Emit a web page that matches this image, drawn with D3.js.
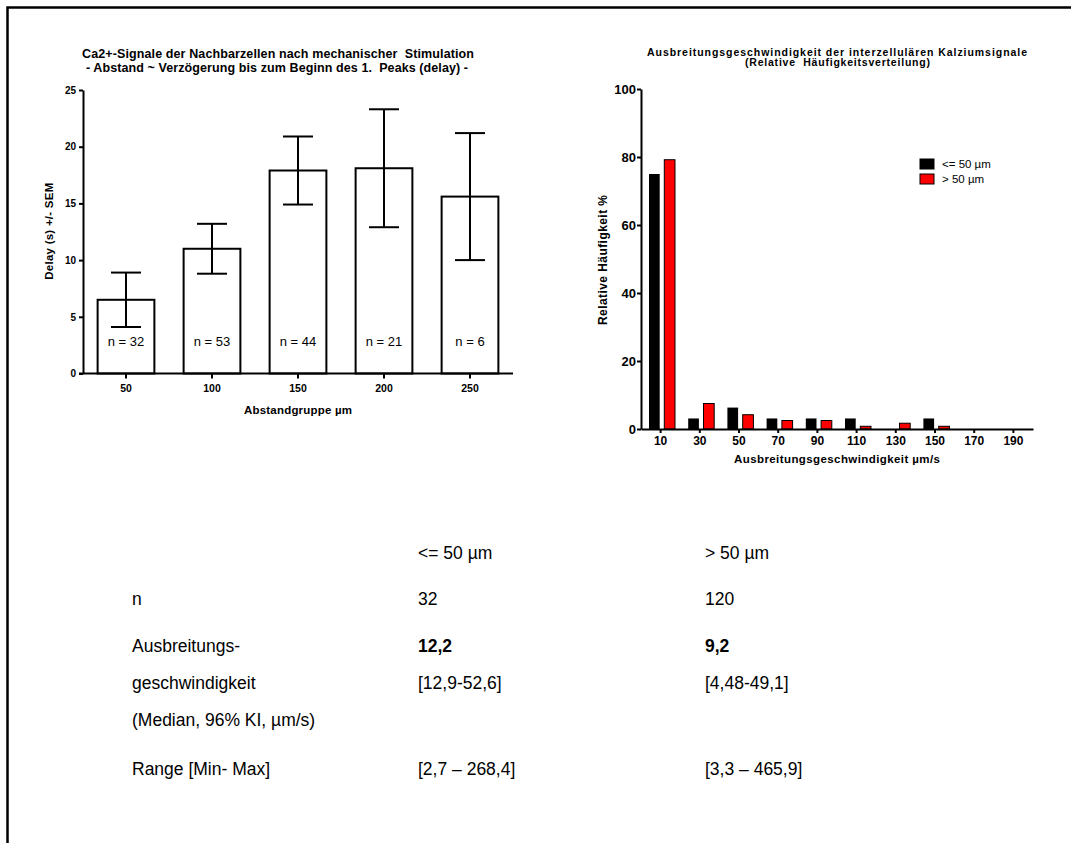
<!DOCTYPE html>
<html lang="de">
<head>
    <meta charset="UTF-8">
    <title>Ca2+-Signale</title>
    <style>
        body {
            margin: 0;
            background: #fff;
            font-family: 'Liberation Sans', Arial, sans-serif;
        }
        svg text { fill: #000; }
        .axis path, .axis line { stroke: #000; stroke-width: 2; }
        .axis text { font-weight: bold; }
    </style>
</head>
<body>
<svg width="1071" height="843"></svg>
<script src="https://d3js.org/d3.v7.min.js"></script>
<script>
    // Left chart: delay by distance group
    const groups = ["50", "100", "150", "200", "250"];
    const delayMean = [6.5, 11.0, 17.9, 18.1, 15.6];
    const delaySem = [2.4, 2.2, 3.0, 5.2, 5.6];
    const groupN = [32, 53, 44, 21, 6];
    const delayTicks = [0, 5, 10, 15, 20, 25];

    // Right chart: relative frequency of propagation speed
    const speedBins = ["10", "30", "50", "70", "90", "110", "130", "150", "170", "190"];
    const seriesNames = ["<= 50 µm", "> 50 µm"];
    const freqNear = [75.0, 3.1, 6.3, 3.1, 3.1, 3.1, 0, 3.1, 0, 0];
    const freqFar = [79.2, 7.5, 4.2, 2.5, 2.5, 0.8, 1.7, 0.8, 0, 0];
    const freqTicks = [0, 20, 40, 60, 80, 100];
    const seriesColors = ["#000000", "#ff0000"];

    // Summary table
    const tableHeader = ["", "<= 50 µm", "> 50 µm"];
    const tableRows = [
        ["n", "32", "120"],
        ["Ausbreitungs-", "12,2", "9,2"],
        ["geschwindigkeit", "[12,9-52,6]", "[4,48-49,1]"],
        ["(Median, 96% KI, µm/s)", "", ""],
        ["Range [Min- Max]", "[2,7 – 268,4]", "[3,3 – 465,9]"]
    ];
    const boldRow = 1;

    const svg = d3.select("svg");

    // page frame (top and left edges)
    svg.append("path")
        .attr("d", "M7.5,843 V7.5 H1071")
        .attr("fill", "none")
        .attr("stroke", "#000")
        .attr("stroke-width", 2.5);

    // helper for stretched bold labels
    function label(g, x, y, txt, size, len, rotate) {
        const t = g.append("text")
            .attr("text-anchor", "middle")
            .style("font-size", size + "px")
            .style("font-weight", "bold")
            .style("white-space", "pre")
            .attr("textLength", len)
            .attr("lengthAdjust", "spacing")
            .text(txt);
        if (rotate) t.attr("transform", `translate(${x},${y}) rotate(-90)`);
        else t.attr("x", x).attr("y", y);
        return t;
    }

    // ---------- left chart ----------
    const L = { left: 83, right: 513, top: 90, bottom: 373.5 };
    const xL = d3.scaleBand().domain(groups).range([L.left, L.right]).paddingInner(0.34).paddingOuter(0.17);
    const yL = d3.scaleLinear().domain([0, 25]).range([L.bottom, L.top]);
    const gL = svg.append("g");

    label(gL, 278, 58, "Ca2+-Signale der Nachbarzellen nach mechanischer  Stimulation", 12.5, 392);
    label(gL, 277, 71.5, "- Abstand ~ Verzögerung bis zum Beginn des 1.  Peaks (delay) -", 12.5, 382);

    const leftData = groups.map((g, i) => ({ g, mean: delayMean[i], sem: delaySem[i], n: groupN[i] }));

    gL.selectAll("rect.bar")
        .data(leftData)
        .join("rect")
        .attr("class", "bar")
        .attr("x", d => xL(d.g))
        .attr("y", d => yL(d.mean))
        .attr("width", xL.bandwidth())
        .attr("height", d => yL(0) - yL(d.mean))
        .attr("fill", "#fff")
        .attr("stroke", "#000")
        .attr("stroke-width", 2);

    const capW = 30;
    const err = gL.selectAll("g.err").data(leftData).join("g").attr("class", "err")
        .attr("stroke", "#000").attr("stroke-width", 2);
    err.append("line")
        .attr("x1", d => xL(d.g) + xL.bandwidth() / 2)
        .attr("x2", d => xL(d.g) + xL.bandwidth() / 2)
        .attr("y1", d => yL(d.mean - d.sem))
        .attr("y2", d => yL(d.mean + d.sem));
    [1, -1].forEach(s => {
        err.append("line")
            .attr("x1", d => xL(d.g) + xL.bandwidth() / 2 - capW / 2)
            .attr("x2", d => xL(d.g) + xL.bandwidth() / 2 + capW / 2)
            .attr("y1", d => yL(d.mean + s * d.sem))
            .attr("y2", d => yL(d.mean + s * d.sem));
    });

    gL.selectAll("text.n")
        .data(leftData)
        .join("text")
        .attr("class", "n")
        .attr("x", d => xL(d.g) + xL.bandwidth() / 2)
        .attr("y", yL(2.8))
        .attr("dy", "0.35em")
        .attr("text-anchor", "middle")
        .style("font-size", "13px")
        .text(d => "n = " + d.n);

    const yAxisL = gL.append("g").attr("class", "axis")
        .attr("transform", `translate(${L.left},0)`)
        .call(d3.axisLeft(yL).tickValues(delayTicks).tickSize(4).tickSizeOuter(0));
    yAxisL.selectAll("text").style("font-size", "10px").attr("x", -7);

    const xAxisL = gL.append("g").attr("class", "axis")
        .attr("transform", `translate(0,${L.bottom})`)
        .call(d3.axisBottom(xL).tickSize(5).tickSizeOuter(0));
    xAxisL.select(".domain").attr("d", `M${L.left - 4},0H${L.right}`);
    xAxisL.selectAll("text").style("font-size", "10.5px").attr("y", 11);

    label(gL, 298, 413.5, "Abstandgruppe µm", 11.5, 108);
    label(gL, 53, (L.top + L.bottom) / 2 - 0.5, "Delay (s) +/- SEM", 11.5, 97, true);

    // ---------- right chart ----------
    const R = { left: 641, right: 1033, top: 89, bottom: 429 };
    const x0 = d3.scaleBand().domain(speedBins).range([R.left, R.right]);
    const x1 = d3.scaleBand().domain(seriesNames).range([8, 34]).paddingInner(0.3);
    const yR = d3.scaleLinear().domain([0, 100]).range([R.bottom, R.top]);
    const gR = svg.append("g");

    label(gR, 837, 55.5, "Ausbreitungsgeschwindigkeit der interzellulären Kalziumsignale", 10.5, 380);
    label(gR, 837.5, 66, "(Relative  Häufigkeitsverteilung)", 10.5, 185);

    const rightData = speedBins.map((b, i) => ({ b, values: [freqNear[i], freqFar[i]] }));
    gR.selectAll("g.bin")
        .data(rightData)
        .join("g")
        .attr("class", "bin")
        .attr("transform", d => `translate(${x0(d.b)},0)`)
        .selectAll("rect")
        .data(d => d.values.map((v, j) => ({ s: seriesNames[j], v, j })))
        .join("rect")
        .attr("x", d => x1(d.s))
        .attr("y", d => yR(d.v))
        .attr("width", x1.bandwidth())
        .attr("height", d => yR(0) - yR(d.v))
        .attr("fill", d => seriesColors[d.j])
        .attr("stroke", "#000")
        .attr("stroke-width", d => d.j === 1 ? 1 : 0);

    const yAxisR = gR.append("g").attr("class", "axis")
        .attr("transform", `translate(${R.left},0)`)
        .call(d3.axisLeft(yR).tickValues(freqTicks).tickSize(4).tickSizeOuter(0));
    yAxisR.selectAll("text").style("font-size", "13px").attr("x", -5);

    const xAxisR = gR.append("g").attr("class", "axis")
        .attr("transform", `translate(0,${R.bottom})`)
        .call(d3.axisBottom(x0).tickSize(4).tickSizeOuter(0));
    xAxisR.selectAll("line").attr("stroke-width", 1.5);
    xAxisR.selectAll("text").style("font-size", "12px").attr("y", 7);

    label(gR, 837, 463, "Ausbreitungsgeschwindigkeit µm/s", 11.5, 206);
    label(gR, 607, (R.top + R.bottom) / 2 + 1, "Relative Häufigkeit %", 12, 130, true);

    const legend = gR.append("g").attr("transform", "translate(920,159)");
    seriesNames.forEach((s, i) => {
        legend.append("rect")
            .attr("x", 0).attr("y", i * 15)
            .attr("width", 14).attr("height", 10)
            .attr("fill", seriesColors[i])
            .attr("stroke", "#000").attr("stroke-width", 1);
        legend.append("text")
            .attr("x", 22).attr("y", i * 15 + 5)
            .attr("dy", "0.35em")
            .style("font-size", "11.5px")
            .text(s);
    });

    // ---------- summary table ----------
    const colX = [132, 418, 705];
    const rowY = [553, 599, 646, 683, 720, 769];
    const tbl = svg.append("g").style("font-size", "17.5px");
    [tableHeader].concat(tableRows).forEach((row, r) => {
        row.forEach((cell, c) => {
            if (!cell) return;
            tbl.append("text")
                .attr("x", colX[c])
                .attr("y", rowY[r])
                .attr("dy", "0.35em")
                .style("font-weight", r === boldRow + 1 && c > 0 ? "bold" : "normal")
                .text(cell);
        });
    });
</script>
</body>
</html>
